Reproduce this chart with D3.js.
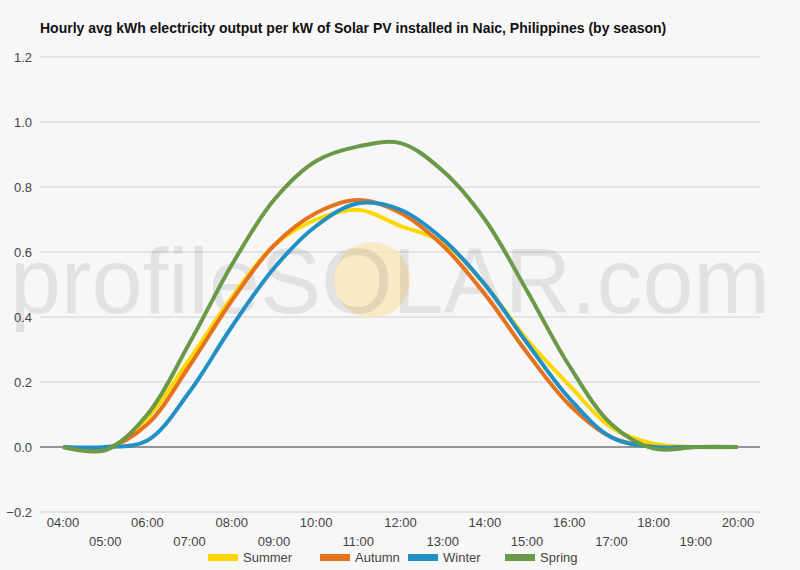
<!DOCTYPE html>
<html><head><meta charset="utf-8">
<script src="https://cdn.jsdelivr.net/npm/d3@7"></script>
<style>body{margin:0;background:#f7f7f7;font-family:Arial,"Liberation Sans",sans-serif}</style>
</head><body><svg id="c" width="800" height="570"></svg>
<script>
// hourly values
var hours = ["04:00","05:00","06:00","07:00","08:00","09:00","10:00","11:00","12:00","13:00","14:00","15:00","16:00","17:00","18:00","19:00","20:00"];
var summer = [0,-0.008,0.09,0.27,0.46,0.62,0.70,0.73,0.68,0.63,0.50,0.33,0.19,0.06,0.01,0,0];
var autumn = [0,-0.005,0.07,0.25,0.45,0.62,0.72,0.76,0.72,0.62,0.47,0.29,0.13,0.03,0,0,0];
var winter = [0,0,0.02,0.17,0.37,0.55,0.68,0.75,0.73,0.64,0.50,0.32,0.15,0.03,0,0,0];
var spring = [0,-0.01,0.10,0.32,0.56,0.76,0.88,0.925,0.935,0.85,0.70,0.48,0.25,0.07,-0.005,0,0];
var yTicks = [-0.2,0,0.2,0.4,0.6,0.8,1.0,1.2];
var seriesNames = ["Summer","Autumn","Winter","Spring"];
var colors = ["#ffd700","#e5731e","#2290c4","#6a9a48"];

var svg = d3.select("#c");
svg.append("rect").attr("width",800).attr("height",570).attr("fill","#f7f7f7");
var x = d3.scalePoint().domain(hours).range([63,738]);
var y = d3.scaleLinear().domain([-0.2,1.2]).range([512,57]);

svg.append("text").attr("x",40).attr("y",33).attr("font-size",14).attr("font-weight","bold")
  .attr("fill","#111").text("Hourly avg kWh electricity output per kW of Solar PV installed in Naic, Philippines (by season)");

// grid
svg.selectAll(".g").data(yTicks).enter().append("line")
  .attr("x1",40).attr("x2",760).attr("y1",d=>y(d)).attr("y2",d=>y(d))
  .attr("stroke",d=>d===0?"#333":"#d0d0d0").attr("stroke-width",1);

// watermark
svg.append("circle").attr("cx",372).attr("cy",280).attr("r",38).attr("fill","#f6e6b8").attr("opacity",0.8);
svg.append("text").attr("x",390).attr("y",313).attr("text-anchor","middle").attr("font-size",92)
  .attr("fill","#000").attr("opacity",0.08).attr("textLength",760).attr("lengthAdjust","spacingAndGlyphs")
  .text("profileSOLAR.com");

svg.selectAll(".yl").data(yTicks).enter().append("text")
  .attr("x",32).attr("y",d=>y(d)+5).attr("text-anchor","end").attr("font-size",13).attr("fill","#444")
  .text(d=>d3.format(".1f")(d));

var line = d3.line().x((d,i)=>x(hours[i])).y(d=>y(d)).curve(d3.curveCatmullRom.alpha(0.5));
[summer,autumn,winter,spring].forEach(function(s,k){
  svg.append("path").attr("d",line(s)).attr("fill","none").attr("stroke",colors[k]).attr("stroke-width",4);
});

// x labels, staggered
svg.selectAll(".xl").data(hours).enter().append("text")
  .attr("x",d=>x(d)).attr("y",(d,i)=>i%2===0?527:546).attr("text-anchor","middle")
  .attr("font-size",13).attr("fill","#444").text(d=>d);

// legend
var lx = [208,320,408,505];
seriesNames.forEach(function(n,k){
  svg.append("rect").attr("x",lx[k]).attr("y",554).attr("width",30).attr("height",7).attr("fill",colors[k]);
  svg.append("text").attr("x",lx[k]+35).attr("y",562).attr("font-size",13).attr("fill","#444").text(n);
});
</script></body></html>
